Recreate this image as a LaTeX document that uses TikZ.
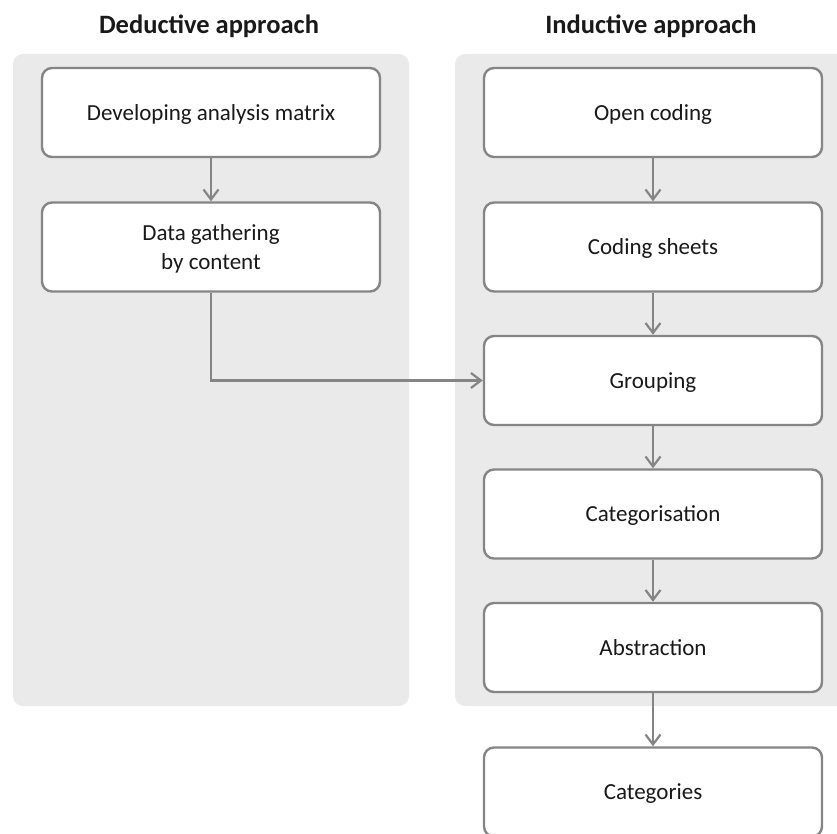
\documentclass[tikz,border=0pt]{standalone}
\usepackage{fontspec}
\setmainfont{Carlito}
\usetikzlibrary{arrows.meta}
\definecolor{panelgray}{HTML}{EAEAEA}
\definecolor{linegray}{HTML}{858585}
\begin{document}
\begin{tikzpicture}[x=1pt,y=-1pt,
  panel/.style={fill=panelgray, draw=none, rounded corners=10pt},
  stepbox/.style={draw=linegray, line width=2.4pt, fill=white, rounded corners=10pt,
    minimum width=338pt, minimum height=89pt, align=center, text depth=0pt,
    font=\fontsize{23}{29}\selectfont, text=black!90},
  title/.style={font=\fontsize{26.5}{30}\selectfont\bfseries, text=black!90},
  flow/.style={draw=linegray, line width=2.2pt,
    -{Straight Barb[length=10pt, width=15pt, line width=2.2pt]}}]
\useasboundingbox (0,0) rectangle (837,834);
\clip (0,0) rectangle (837,834);
% background panels
\fill[panel] (13,54) rectangle (409,706);
\fill[panel] (455,54) rectangle (860,706);
% column titles
\node[title] (tded) at (209,26) {Deductive approach};
\node[title] (tind) at (651,26) {Inductive approach};
% deductive steps
\node[stepbox] (dev)  at (211,112.5) {Developing analysis matrix};
\node[stepbox] (gath) at (211,247) {Data gathering\\by content};
% inductive steps
\node[stepbox] (open) at (653,112.5) {Open coding};
\node[stepbox] (code) at (653,247) {Coding sheets};
\node[stepbox] (grp)  at (653,380.5) {Grouping};
\node[stepbox] (cat)  at (653,514) {Categorisation};
\node[stepbox] (abs)  at (653,647.5) {Abstraction};
\node[stepbox] (res)  at (653,792) {Categories};
% connectors
\draw[flow] (dev) -- (gath);
\draw[flow] (gath.south) |- (grp.west);
\draw[flow] (open) -- (code);
\draw[flow] (code) -- (grp);
\draw[flow] (grp) -- (cat);
\draw[flow] (cat) -- (abs);
\draw[flow] (abs) -- (res);
\end{tikzpicture}
\end{document}
